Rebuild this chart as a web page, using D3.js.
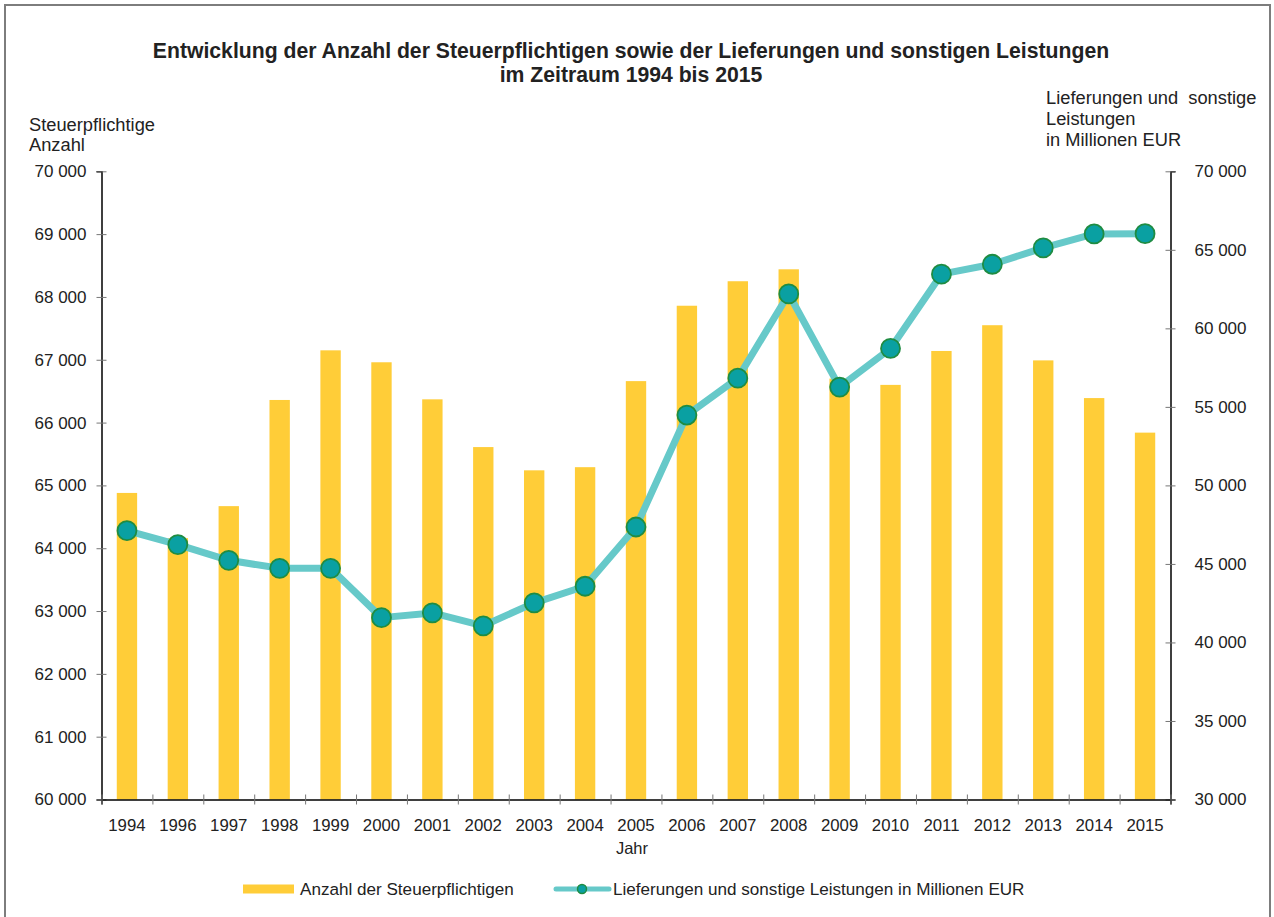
<!DOCTYPE html>
<html>
<head>
<meta charset="utf-8">
<script src="https://cdn.jsdelivr.net/npm/d3@7"></script>
<style>
  body { margin: 0; background: #fff; }
  text { font-family: "Liberation Sans", Arial, sans-serif; fill: #222; }
</style>
</head>
<body>
<svg width="1274" height="917"></svg>
<script>
const width = 1274;
const height = 917;

// data
const years = ['1994','1996','1997','1998','1999','2000','2001','2002','2003','2004','2005',
               '2006','2007','2008','2009','2010','2011','2012','2013','2014','2015'];
const taxpayers = [64880, 64160, 64670, 66360, 67150, 66960, 66370, 65610, 65240, 65290, 66660,
                   67860, 68250, 68440, 66700, 66600, 67140, 67550, 66990, 66390, 65840];
const deliveries = [47120, 46230, 45230, 44720, 44720, 41580, 41880, 41060, 42520, 43580, 47350,
                    54480, 56830, 62190, 56260, 58720, 63450, 64080, 65120, 66010, 66030];
const leftTicks = d3.range(60000, 70001, 1000);
const rightTicks = d3.range(30000, 70001, 5000);

const barColor = '#FFCD38';
const lineColor = '#66C9C9';
const dotFill = '#0AA0A2';
const dotStroke = '#1F8C42';

const plotLeft = 101.5, plotRight = 1170.5, plotTop = 171.3, plotBottom = 799.5;

const svg = d3.select('svg');

// outer frame
svg.append('rect')
    .attr('x', 5).attr('y', 5)
    .attr('width', 1265).attr('height', 930)
    .attr('fill', 'none')
    .attr('stroke', '#7d7d7d')
    .attr('stroke-width', 2);

const fmt = d3.formatLocale({decimal: ',', thousands: ' ', grouping: [3], currency: ['', '']}).format(',');

const x = d3.scaleBand()
    .domain(years)
    .range([plotLeft, plotRight])
    .paddingInner(0.6)
    .paddingOuter(0.3);

const xEdge = d3.scaleLinear().domain([0, years.length]).range([plotLeft, plotRight]);

const yL = d3.scaleLinear().domain([60000, 70000]).range([plotBottom, plotTop]);
const yR = d3.scaleLinear().domain([30000, 70000]).range([plotBottom, plotTop]);

// bars
svg.append('g').selectAll('rect')
    .data(years)
    .enter()
    .append('rect')
    .attr('x', d => x(d))
    .attr('width', x.bandwidth())
    .attr('y', (d, i) => yL(taxpayers[i]))
    .attr('height', (d, i) => plotBottom - yL(taxpayers[i]))
    .attr('fill', barColor);

// left axis
const leftAxis = svg.append('g')
    .attr('transform', 'translate(' + plotLeft + ',0)')
    .call(d3.axisLeft(yL).tickValues(leftTicks).tickFormat(fmt).tickSize(5).tickPadding(10));
leftAxis.select('.domain').attr('stroke', '#000').attr('stroke-width', 1.5);
leftAxis.selectAll('.tick line').attr('x1', -5).attr('x2', 5).attr('stroke', '#777');
leftAxis.selectAll('.tick text').style('font-size', '17px').attr('fill', '#222');

// right axis
const rightAxis = svg.append('g')
    .attr('transform', 'translate(' + plotRight + ',0)')
    .call(d3.axisRight(yR).tickValues(rightTicks).tickFormat(fmt).tickSize(5).tickPadding(19));
rightAxis.select('.domain').attr('stroke', '#000').attr('stroke-width', 1.5);
rightAxis.selectAll('.tick line').attr('x1', -5).attr('x2', 5).attr('stroke', '#777');
rightAxis.selectAll('.tick text').style('font-size', '17px').attr('fill', '#222');

// x axis: boundary ticks + centered labels
const xAxisTicks = svg.append('g')
    .attr('transform', 'translate(0,' + plotBottom + ')')
    .call(d3.axisBottom(xEdge).tickValues(d3.range(years.length + 1)).tickFormat('').tickSize(5));
xAxisTicks.select('.domain').attr('stroke', '#000').attr('stroke-width', 1.5);
xAxisTicks.selectAll('.tick line').attr('y1', -5).attr('y2', 5).attr('stroke', '#777');

svg.append('g').selectAll('text')
    .data(years)
    .enter()
    .append('text')
    .attr('x', d => x(d) + x.bandwidth() / 2)
    .attr('y', 831)
    .attr('text-anchor', 'middle')
    .style('font-size', '16.8px')
    .text(d => d);

// line + markers
const line = d3.line()
    .x((d, i) => x(years[i]) + x.bandwidth() / 2)
    .y(d => yR(d));

svg.append('path')
    .datum(deliveries)
    .attr('d', line)
    .attr('fill', 'none')
    .attr('stroke', lineColor)
    .attr('stroke-width', 7)
    .attr('stroke-linejoin', 'round');

svg.append('g').selectAll('circle')
    .data(deliveries)
    .enter()
    .append('circle')
    .attr('cx', (d, i) => x(years[i]) + x.bandwidth() / 2)
    .attr('cy', d => yR(d))
    .attr('r', 9.5)
    .attr('fill', dotFill)
    .attr('stroke', dotStroke)
    .attr('stroke-width', 1.8);

// titles
const title = svg.append('text')
    .attr('text-anchor', 'middle')
    .style('font-size', '21.2px')
    .style('font-weight', 'bold');
title.append('tspan').attr('x', 631).attr('y', 57.5)
    .text('Entwicklung der Anzahl der Steuerpflichtigen sowie der Lieferungen und sonstigen Leistungen');
title.append('tspan').attr('x', 631).attr('y', 82)
    .text('im Zeitraum 1994 bis 2015');

const ltitle = svg.append('text').style('font-size', '18.3px');
ltitle.append('tspan').attr('x', 29).attr('y', 131).text('Steuerpflichtige');
ltitle.append('tspan').attr('x', 29).attr('y', 151).text('Anzahl');

const rtitle = svg.append('text').style('font-size', '18.3px');
rtitle.append('tspan').attr('x', 1046).attr('y', 104).text('Lieferungen und\u00a0 sonstige');
rtitle.append('tspan').attr('x', 1046).attr('y', 125).text('Leistungen');
rtitle.append('tspan').attr('x', 1046).attr('y', 146).text('in Millionen EUR');

svg.append('text')
    .attr('x', 632).attr('y', 854)
    .attr('text-anchor', 'middle')
    .style('font-size', '16.5px')
    .text('Jahr');

// legend
const legend = svg.append('g');
legend.append('rect')
    .attr('x', 243).attr('y', 884.5)
    .attr('width', 51).attr('height', 9)
    .attr('fill', barColor);
legend.append('text')
    .attr('x', 300).attr('y', 895)
    .style('font-size', '17.1px')
    .text('Anzahl der Steuerpflichtigen');

legend.append('line')
    .attr('x1', 556).attr('x2', 609)
    .attr('y1', 889).attr('y2', 889)
    .attr('stroke', lineColor)
    .attr('stroke-width', 5)
    .attr('stroke-linecap', 'round');
legend.append('circle')
    .attr('cx', 582).attr('cy', 889).attr('r', 4.5)
    .attr('fill', dotFill)
    .attr('stroke', dotStroke)
    .attr('stroke-width', 1.5);
legend.append('text')
    .attr('x', 613).attr('y', 895)
    .style('font-size', '17.1px')
    .text('Lieferungen und sonstige Leistungen in Millionen EUR');
</script>
</body>
</html>
